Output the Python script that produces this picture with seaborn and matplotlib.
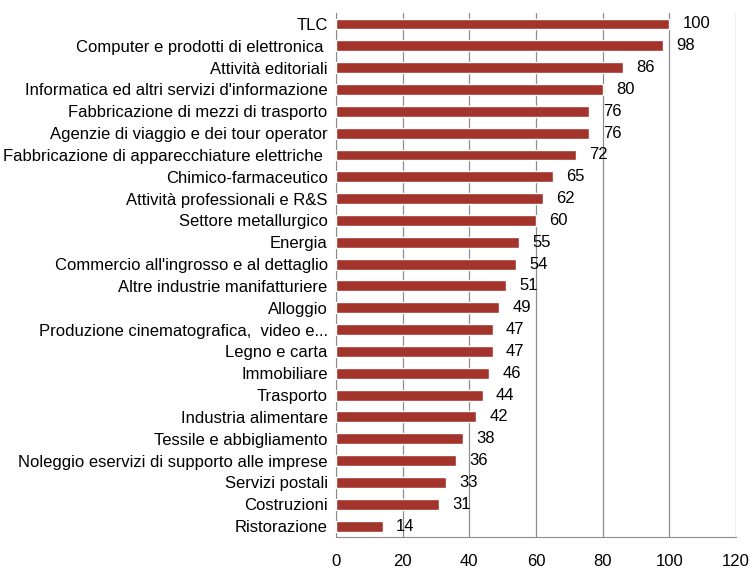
import pandas as pd
import matplotlib.pyplot as plt
import seaborn as sns
from matplotlib.ticker import FixedLocator

# Dati
settori = [
    "TLC", "Computer e prodotti di elettronica ", "Attività editoriali",
    "Informatica ed altri servizi d'informazione", "Fabbricazione di mezzi di trasporto",
    "Agenzie di viaggio e dei tour operator", "Fabbricazione di apparecchiature elettriche ",
    "Chimico-farmaceutico", "Attività professionali e R&S", "Settore metallurgico",
    "Energia", "Commercio all'ingrosso e al dettaglio", "Altre industrie manifatturiere",
    "Alloggio", "Produzione cinematografica,  video e...", "Legno e carta",
    "Immobiliare", "Trasporto", "Industria alimentare", "Tessile e abbigliamento",
    "Noleggio eservizi di supporto alle imprese", "Servizi postali", "Costruzioni",
    "Ristorazione",
]
valori = [100, 98, 86, 80, 76, 76, 72, 65, 62, 60, 55, 54, 51, 49, 47, 47, 46, 44,
          42, 38, 36, 33, 31, 14]
x_ticks = [0, 20, 40, 60, 80, 100, 120]

df = pd.DataFrame({'settore': settori, 'valore': valori})

sns.set_style("white")
plt.rcParams['font.family'] = ['Liberation Sans Narrow', 'Liberation Sans', 'DejaVu Sans']
plt.rcParams['text.color'] = 'black'
plt.rcParams['xtick.color'] = 'black'
plt.rcParams['ytick.color'] = 'black'

fig = plt.figure(figsize=(7.49, 5.68), dpi=100)
ax = fig.add_axes([0.4486, 0.0546, 0.534, 0.9224])

sns.barplot(x='valore', y='settore', data=df, color='#a3342b', width=0.5,
            saturation=1, ax=ax, zorder=3)

# Etichette dei valori
for i, v in enumerate(valori):
    ax.text(v + 4, i, str(v), va='center', ha='left', fontsize=12, color='black')

ax.set_xlim(0, 120)
ax.set_ylim(len(settori) - 0.5, -0.5)
ax.set_xticks(x_ticks)
ax.set_xlabel('')
ax.set_ylabel('')
ax.xaxis.grid(True, color='#8c8c8c', linewidth=0.9, zorder=0)
ax.yaxis.grid(False)
for s in ['top', 'right']:
    ax.spines[s].set_visible(False)
for s in ['left', 'bottom']:
    ax.spines[s].set_color('#8c8c8c')
ax.tick_params(axis='y', which='major', length=0, labelsize=12, pad=6, labelcolor='black')
ax.tick_params(axis='x', which='major', length=4, color='#8c8c8c', labelsize=12, pad=8,
               labelcolor='black')
ax.yaxis.set_minor_locator(FixedLocator([i - 0.5 for i in range(len(settori) + 1)]))
ax.tick_params(axis='y', which='minor', length=4, color='#8c8c8c', direction='out')

fig.savefig('out.png', dpi=100)
